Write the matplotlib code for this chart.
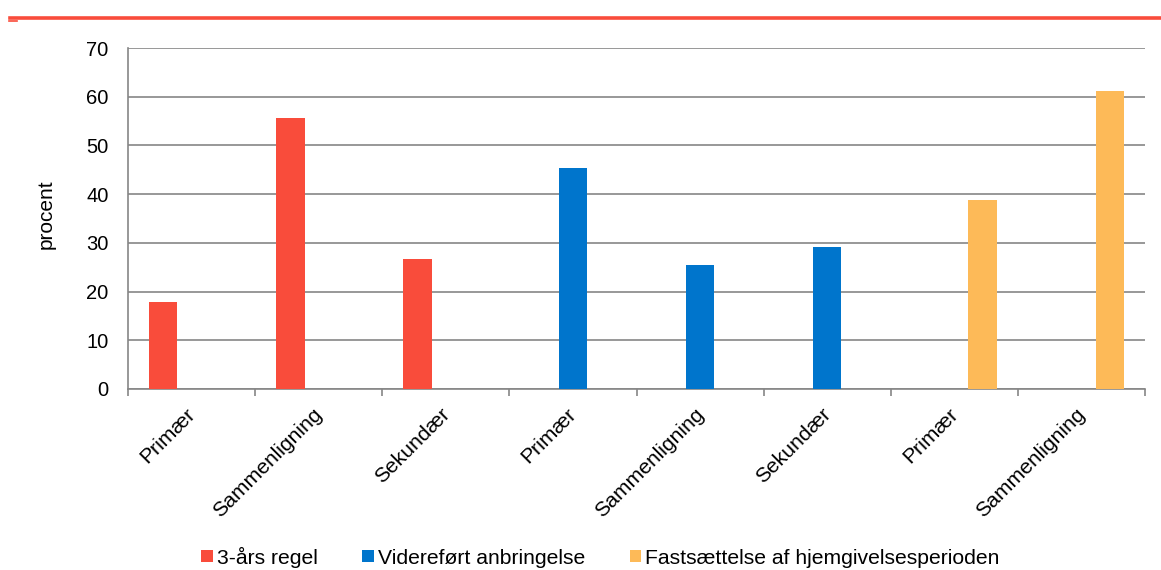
import matplotlib
matplotlib.use("Agg")
import matplotlib.pyplot as plt
import matplotlib.transforms as mtransforms
import numpy as np
from matplotlib.patches import Patch
from matplotlib.lines import Line2D

plt.rcParams['font.family'] = ['Liberation Sans', 'DejaVu Sans']

categories = ["Primær", "Sammenligning", "Sekundær", "Primær", "Sammenligning",
              "Sekundær", "Primær", "Sammenligning"]
series_names = ["3-års regel", "Videreført anbringelse", "Fastsættelse af hjemgivelsesperioden"]
s1 = [17.8, 55.6, 26.6, 0, 0, 0, 0, 0]
s2 = [0, 0, 0, 45.4, 25.5, 29.1, 0, 0]
s3 = [0, 0, 0, 0, 0, 0, 38.8, 61.2]
colors = ["#F94C3B", "#0075CC", "#FDBA58"]
ylabel = "procent"

fs = 14.5
fs_x = 15.2
fs_leg = 15.2
fig = plt.figure(figsize=(11.61, 5.70), dpi=100)
ax = fig.add_axes([128/1161, 1-389/570, (1145-128)/1161, (389-48)/570])

x = np.arange(len(categories))
w = 0.2225
for i, (vals, c) in enumerate(zip([s1, s2, s3], colors)):
    ax.bar(x + (i-1)*w, vals, width=w, color=c, zorder=3)

ax.set_xlim(-0.5, len(categories)-0.5)
ax.set_ylim(0, 70)
ax.set_yticks(np.arange(0, 71, 10))
ax.yaxis.grid(True, color="#868686", linewidth=1.2, zorder=0)
ax.tick_params(axis='y', length=0, pad=14, labelsize=fs)
for s in ['top', 'right']:
    ax.spines[s].set_visible(False)
for s in ['left', 'bottom']:
    ax.spines[s].set_color("#868686")
    ax.spines[s].set_linewidth(1.2)

ax.set_xticks(x)
ax.set_xticklabels(categories, rotation=45, ha='right', va='top',
                   rotation_mode='anchor', fontsize=fs_x)
ax.tick_params(axis='x', which='major', length=0, pad=9)
offset = mtransforms.ScaledTranslation(-6/100, -3/100, fig.dpi_scale_trans)
for lab in ax.get_xticklabels():
    lab.set_transform(lab.get_transform() + offset)
ax.set_xticks(np.arange(-0.5, len(categories), 1), minor=True)
ax.tick_params(axis='x', which='minor', length=5, color="#868686", width=1.2)

ax.set_ylabel(ylabel, fontsize=15)
ax.yaxis.set_label_coords(-72/1017, 0.5 + 4/341)

handles = [Patch(facecolor=c, edgecolor='none') for c in colors]
fig.legend(handles, series_names, loc='center', bbox_to_anchor=(600.5/1161, 1-557/570),
           ncol=3, frameon=False, fontsize=fs_leg, handlelength=0.54, handleheight=0.54,
           handletextpad=0.21, columnspacing=2.1, borderaxespad=0, borderpad=0)

fig.add_artist(Line2D([10/1161, 1.0], [1-17.5/570, 1-17.5/570], color=colors[0],
                      linewidth=2.6, transform=fig.transFigure))
fig.add_artist(Line2D([9/1161, 17/1161], [1-20.5/570, 1-20.5/570], color=colors[0],
                      linewidth=1.2, transform=fig.transFigure))

fig.savefig("out.png", dpi=100)
